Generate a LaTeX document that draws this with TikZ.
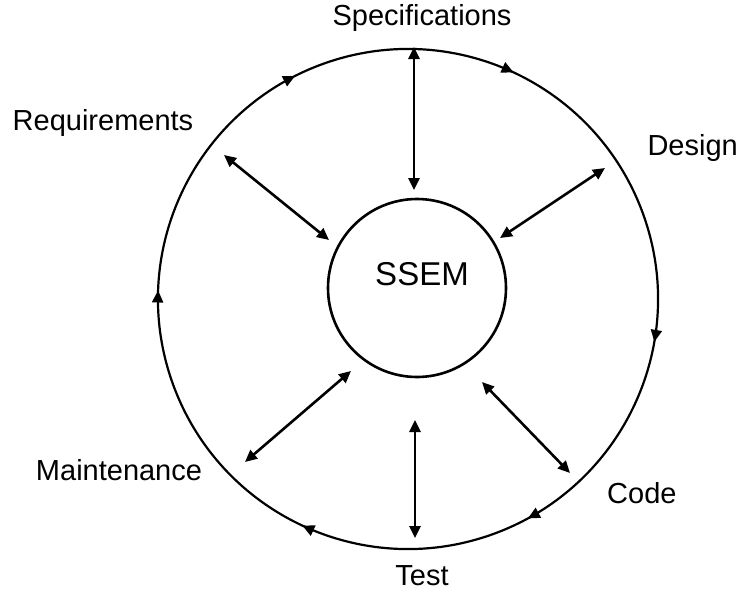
\documentclass[tikz,border=0pt]{standalone}
\usepackage{fontspec}
\setmainfont{Liberation Sans}
\usetikzlibrary{arrows.meta,decorations.markings}
\tikzset{
  mytip/.tip={Triangle[length=12pt,width=11pt]},
  lbl/.style={inner sep=0pt, text height=0.716em, text depth=0pt, font=\fontsize{29}{31}\selectfont},
  dbl/.style={line width=2.6pt, mytip-mytip},
  cyc/.style={line width=2.2pt},
}
\begin{document}
\begin{tikzpicture}[x=1pt,y=-1pt]
\useasboundingbox (0,0) rectangle (740,598);
\coordinate (O) at (408,299);
\draw[cyc, postaction={decorate}, decoration={markings,
  mark=at position 0.061 with {\arrow{mytip}},
  mark=at position 0.231 with {\arrow{mytip}},
  mark=at position 0.375 with {\arrow{mytip}},
  mark=at position 0.583 with {\arrow{mytip}},
  mark=at position 0.726 with {\arrow{mytip}},
  mark=at position 0.875 with {\arrow{mytip}}}]
  (O) ++(-200:250) arc[start angle=-200, end angle=160, radius=250];
\node[circle, draw, line width=2.6pt, minimum size=178pt, inner sep=0pt] (ssem) at (417,288) {};
\node[lbl, font=\fontsize{33}{35}\selectfont] (ssemt) at (422,282) {SSEM};
\node[lbl] (spec) at (422,22) {Specifications};
\node[lbl] (req) at (103,127) {Requirements};
\node[lbl, anchor=east] (des) at (738,152) {Design};
\node[lbl] (mnt) at (119,477) {Maintenance};
\node[lbl, anchor=west] (code) at (607,500) {Code};
\node[lbl] (test) at (422,582) {Test};
\coordinate (s1) at (414,47);  \coordinate (s2) at (414,190);
\coordinate (d1) at (605,168); \coordinate (d2) at (500,238);
\coordinate (r1) at (224,155); \coordinate (r2) at (329,240);
\coordinate (m1) at (245,462); \coordinate (m2) at (351,371);
\coordinate (c1) at (570,473); \coordinate (c2) at (482,382);
\coordinate (t1) at (415,420); \coordinate (t2) at (415,538);
\draw[dbl] (s1) -- (s2);
\draw[dbl] (d1) -- (d2);
\draw[dbl] (r1) -- (r2);
\draw[dbl] (m1) -- (m2);
\draw[dbl] (c1) -- (c2);
\draw[dbl] (t1) -- (t2);
\end{tikzpicture}
\end{document}
